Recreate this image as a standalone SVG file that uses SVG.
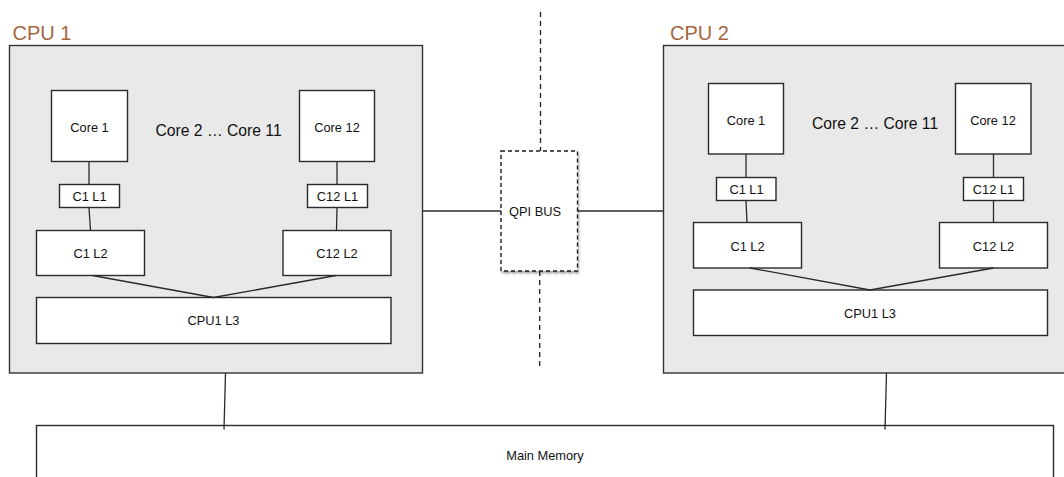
<svg xmlns="http://www.w3.org/2000/svg" width="1064" height="477" viewBox="0 0 1064 477">
  <style>
    .cpu { fill: #e9e9e9; stroke: #333333; stroke-width: 1.4; }
    .box { fill: #ffffff; stroke: #2a2a2a; stroke-width: 1.4; }
    .bus { fill: #ffffff; stroke: #1e1e1e; stroke-width: 1.4; stroke-dasharray: 4 3; }
    .wire { fill: none; stroke: #2a2a2a; stroke-width: 1.3; }
    .divider { fill: none; stroke: #1e1e1e; stroke-width: 1.3; stroke-dasharray: 5 4; }
    .t { font-family: "Liberation Sans", Arial, sans-serif; font-size: 12.8px; fill: #111111; text-anchor: middle; }
    .mid { font-size: 15.7px; text-anchor: start; }
    .title { font-family: "Liberation Sans", Arial, sans-serif; font-size: 20px; fill: #a5653f; }
  </style>
  <defs>
    <filter id="shadow" x="-10%" y="-10%" width="125%" height="125%">
      <feGaussianBlur in="SourceAlpha" stdDeviation="1"/>
      <feOffset dx="1" dy="1.5" result="b"/>
      <feComponentTransfer><feFuncA type="linear" slope="0.35"/></feComponentTransfer>
      <feMerge><feMergeNode/><feMergeNode in="SourceGraphic"/></feMerge>
    </filter>
  </defs>

  <!-- socket divider -->
  <g id="divider">
    <line class="divider" x1="540.5" y1="12" x2="540.5" y2="151"/>
    <line class="divider" x1="539.7" y1="271" x2="539.7" y2="368"/>
  </g>

  <!-- CPU 1 package -->
  <g id="cpu1">
    <text class="title" x="12.5" y="40">CPU 1</text>
    <rect class="cpu" x="9.5" y="45.5" width="413" height="327.5"/>
  </g>
  <g id="cpu1-core1"><rect class="box" x="51.5" y="90.5" width="76" height="71"/><text class="t" x="89.5" y="131.5">Core 1</text></g>
  <g id="cpu1-cores-mid"><text class="t mid" x="155.5" y="135.5">Core 2 … Core 11</text></g>
  <g id="cpu1-core12"><rect class="box" x="299.5" y="90.5" width="75" height="71"/><text class="t" x="337" y="131.5">Core 12</text></g>
  <g id="cpu1-c1l1"><rect class="box" x="59.5" y="184.5" width="60" height="23"/><text class="t" x="89.5" y="201">C1 L1</text></g>
  <g id="cpu1-c12l1"><rect class="box" x="307.5" y="184.5" width="60" height="23"/><text class="t" x="337.5" y="201">C12 L1</text></g>
  <g id="cpu1-c1l2"><rect class="box" x="36.5" y="230.5" width="108" height="45"/><text class="t" x="90.5" y="258">C1 L2</text></g>
  <g id="cpu1-c12l2"><rect class="box" x="283" y="230.5" width="108" height="45"/><text class="t" x="337" y="258">C12 L2</text></g>
  <g id="cpu1-l3"><rect class="box" x="36.5" y="297.5" width="354.5" height="46"/><text class="t" x="213.5" y="325">CPU1 L3</text></g>

  <!-- CPU 2 package -->
  <g id="cpu2">
    <text class="title" x="670" y="40">CPU 2</text>
    <rect class="cpu" x="663.5" y="45.5" width="410" height="327.5"/>
  </g>
  <g id="cpu2-core1"><rect class="box" x="708.5" y="83.5" width="75" height="70.5"/><text class="t" x="746" y="124.5">Core 1</text></g>
  <g id="cpu2-cores-mid"><text class="t mid" x="812" y="128.5">Core 2 … Core 11</text></g>
  <g id="cpu2-core12"><rect class="box" x="955.5" y="83.5" width="75.5" height="70.5"/><text class="t" x="993" y="124.5">Core 12</text></g>
  <g id="cpu2-c1l1"><rect class="box" x="716.5" y="177.5" width="59.5" height="23"/><text class="t" x="746.5" y="194">C1 L1</text></g>
  <g id="cpu2-c12l1"><rect class="box" x="963.5" y="177.5" width="60" height="23"/><text class="t" x="993.5" y="194">C12 L1</text></g>
  <g id="cpu2-c1l2"><rect class="box" x="693.5" y="222.5" width="108" height="45.5"/><text class="t" x="747.5" y="250.5">C1 L2</text></g>
  <g id="cpu2-c12l2"><rect class="box" x="939.5" y="222.5" width="108" height="45.5"/><text class="t" x="993.5" y="250.5">C12 L2</text></g>
  <g id="cpu2-l3"><rect class="box" x="693.5" y="290" width="354" height="45.5"/><text class="t" x="870" y="317.5">CPU1 L3</text></g>

  <!-- interconnect -->
  <g id="qpi-bus">
    <rect class="bus" x="501" y="151" width="76.5" height="120" filter="url(#shadow)"/>
    <text class="t" x="535" y="216">QPI BUS</text>
  </g>

  <!-- system memory -->
  <g id="main-memory">
    <rect class="box" x="36.5" y="425.5" width="1017" height="70"/>
    <text class="t" x="545" y="459.5">Main Memory</text>
  </g>

  <g id="connectors">
    <!-- CPU 1 internal -->
    <line class="wire" x1="89" y1="161.5" x2="89" y2="184.5"/>
    <line class="wire" x1="89" y1="207.5" x2="90.5" y2="230.5"/>
    <line class="wire" x1="337" y1="161.5" x2="337" y2="184.5"/>
    <line class="wire" x1="337" y1="207.5" x2="336.5" y2="230.5"/>
    <polyline class="wire" points="92.5,275.5 213.5,297.5 336,275.5"/>
    <!-- CPU 2 internal -->
    <line class="wire" x1="746" y1="154" x2="746" y2="177.5"/>
    <line class="wire" x1="746" y1="200.5" x2="747" y2="222.5"/>
    <line class="wire" x1="993.5" y1="154" x2="993.5" y2="177.5"/>
    <line class="wire" x1="993.5" y1="200.5" x2="993.5" y2="222.5"/>
    <polyline class="wire" points="750,268 870,290 993.5,268"/>
    <!-- QPI links -->
    <line class="wire" x1="422.5" y1="211" x2="501" y2="211"/>
    <line class="wire" x1="577.5" y1="211" x2="663.5" y2="211"/>
    <!-- memory links -->
    <line class="wire" x1="225.5" y1="373" x2="224" y2="429.5"/>
    <line class="wire" x1="886.5" y1="373" x2="885" y2="429.5"/>
  </g>
</svg>
